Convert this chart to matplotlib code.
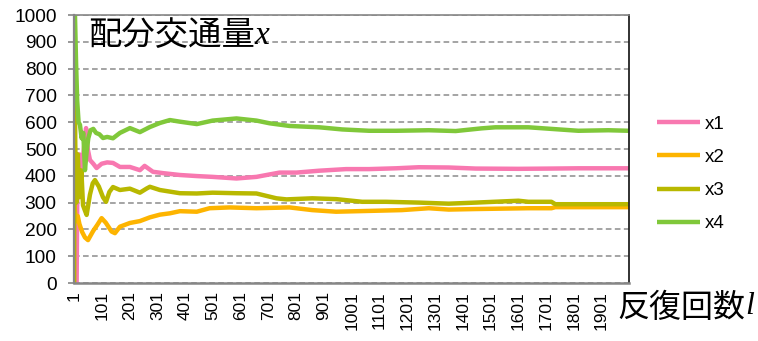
import matplotlib
matplotlib.use("Agg")
import matplotlib.pyplot as plt

plt.rcParams['font.family'] = ['Liberation Sans', 'Noto Sans CJK JP', 'DejaVu Sans']

# link flows per iteration (read at selected iterations)
it_x1 = [1, 10, 13, 20, 28, 38, 44, 50, 58, 70, 82, 100, 120, 141, 166, 202, 238, 255, 285, 321,
         382, 443, 500, 586, 658, 741, 802, 884, 981, 1064, 1161, 1243, 1351, 1448, 1602, 1721, 1818, 2000]
x1 = [0, 0, 430, 480, 420, 520, 578, 500, 459, 445, 429, 445, 450, 448, 433, 433, 421, 437, 415, 410,
      403, 399, 396, 390, 396, 412, 412, 419, 425, 425, 428, 432, 431, 427, 426, 427, 428, 428]

it_x2 = [1, 3, 8, 14, 20, 30, 40, 51, 58, 70, 84, 100, 115, 136, 148, 166, 202, 238, 274, 310,
         346, 382, 443, 489, 561, 658, 777, 859, 945, 1064, 1182, 1279, 1351, 1448, 1638, 1721, 1735, 2000]
x2 = [1000, 280, 230, 250, 220, 190, 170, 160, 173, 195, 216, 242, 225, 192, 186, 210, 224, 231, 245, 255,
      260, 268, 266, 279, 282, 279, 282, 272, 266, 269, 272, 279, 274, 276, 279, 279, 283, 283]

it_x3 = [1, 2, 5, 9, 14, 20, 27, 33, 40, 46, 58, 68, 76, 90, 105, 116, 128, 141, 166, 202,
         238, 263, 274, 310, 346, 382, 443, 500, 586, 658, 730, 766, 859, 945, 1039, 1125, 1243, 1351,
         1448, 1602, 1638, 1721, 1735, 2000]
x3 = [0, 1000, 520, 300, 480, 320, 420, 290, 270, 254, 330, 372, 384, 360, 320, 303, 340, 358, 347, 352,
      337, 353, 359, 347, 341, 335, 334, 337, 335, 334, 316, 312, 316, 313, 303, 303, 300, 296,
      300, 307, 303, 303, 294, 294]

it_x4 = [1, 4, 8, 12, 17, 22, 28, 34, 40, 46, 52, 60, 70, 80, 92, 105, 120, 141, 166, 202,
         238, 274, 310, 346, 382, 443, 500, 586, 658, 705, 777, 884, 967, 1064, 1161, 1279, 1376, 1469,
         1519, 1638, 1721, 1818, 1926, 2000]
x4 = [1000, 1000, 820, 680, 600, 590, 540, 560, 421, 490, 540, 570, 575, 560, 555, 541, 545, 540, 560, 578,
      563, 582, 597, 608, 602, 593, 606, 614, 606, 596, 586, 581, 573, 568, 568, 570, 567, 577,
      581, 581, 575, 568, 570, 568]

series = [('x1', it_x1, x1, '#f878b0'),
          ('x2', it_x2, x2, '#fdb400'),
          ('x3', it_x3, x3, '#b8b800'),
          ('x4', it_x4, x4, '#80c83a')]

n_iter = 2000
xticks = list(range(1, n_iter, 100))
yticks = list(range(0, 1001, 100))

W, H = 758, 341
fig = plt.figure(figsize=(W / 100, H / 100), dpi=100)
ax = fig.add_axes([74 / W, 1 - 283 / H, (629 - 74) / W, (283 - 15) / H])

for name, it, vals, col in series:
    ax.plot(it, vals, color=col, lw=3.2, label=name, solid_capstyle='butt')

ax.set_xlim(0.5, n_iter + 0.5)
ax.set_ylim(0, 1000)
ax.set_yticks(yticks)
ax.set_xticks(xticks)
ax.set_xticklabels([str(t) for t in xticks], rotation=90, fontsize=12.5)
ax.tick_params(axis='x', length=0, pad=6)
ax.tick_params(axis='y', length=4.5, width=1.2, color='#868686', pad=8, labelsize=13.8)

ax.set_axisbelow(True)
ax.yaxis.grid(True, color='#8c8c8c', lw=1.1, dashes=(3.7, 2.2))

for s in ['left', 'bottom', 'top']:
    ax.spines[s].set_color('#868686')
ax.spines['left'].set_linewidth(1.6)
ax.spines['bottom'].set_linewidth(1.8)
ax.spines['top'].set_linewidth(1.2)
ax.spines['right'].set_color('#222222')
ax.spines['right'].set_linewidth(1.3)

fig.legend(loc='center left', bbox_to_anchor=(657 / W, 1 - 174 / H), frameon=False,
           fontsize=13.5, handlelength=2.3, handletextpad=0.25, labelspacing=0.85,
           borderpad=0, borderaxespad=0)

# titles: Japanese text followed by an italic serif symbol
t1 = fig.text(88 / W, 1 - 36 / H, '配分交通量', fontsize=24, family='Noto Sans CJK JP', va='center')
ax.annotate('x', xy=(1, 0.08), xycoords=t1, fontsize=24, family='Liberation Serif',
            style='italic', va='bottom', annotation_clip=False)

t2 = fig.text(617 / W, 1 - 308 / H, '反復回数', fontsize=23, family='Noto Sans CJK JP', va='center')
ax.annotate('l', xy=(1, 0.08), xycoords=t2, fontsize=23, family='Liberation Serif',
            style='italic', va='bottom', annotation_clip=False)

fig.savefig('out.png', dpi=100)
